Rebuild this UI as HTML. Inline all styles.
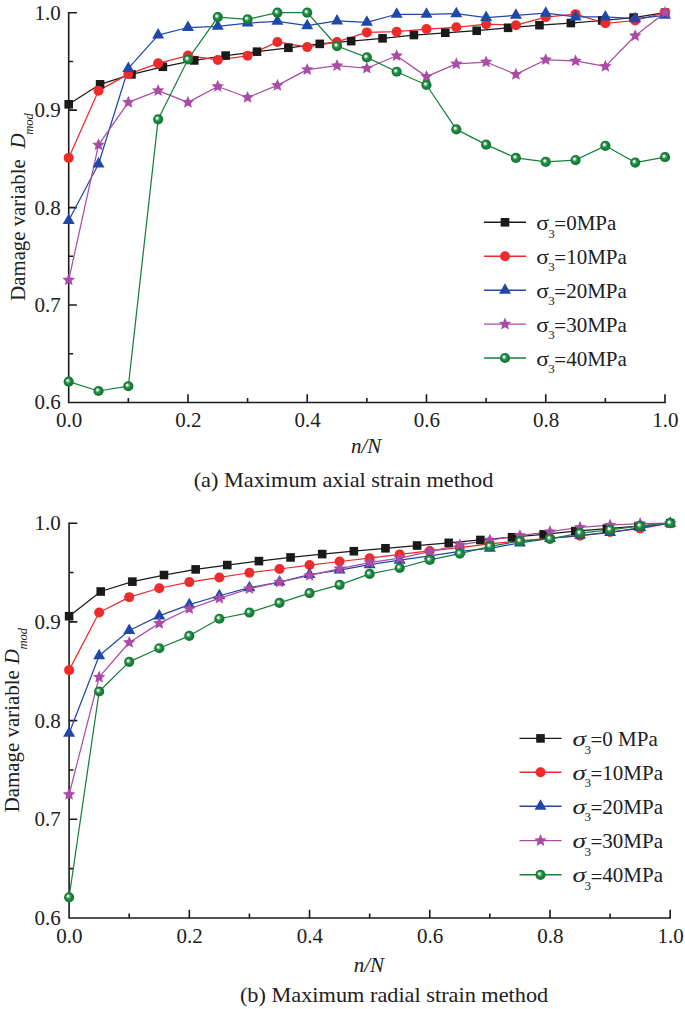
<!DOCTYPE html><html><head><meta charset="utf-8"><style>html,body{margin:0;padding:0;background:#fff;overflow:hidden;}svg{display:block;}text{font-family:"Liberation Serif", serif;}</style></head><body>
<svg width="685" height="1009" viewBox="0 0 685 1009">
<defs><radialGradient id="sph" cx="0.5" cy="0.5" r="0.5" fx="0.36" fy="0.36"><stop offset="0" stop-color="#ffffff"/><stop offset="0.14" stop-color="#eef7f0"/><stop offset="0.42" stop-color="#3a9c5a"/><stop offset="0.6" stop-color="#1a853c"/><stop offset="1" stop-color="#127532"/></radialGradient></defs>
<rect width="685" height="1009" fill="#fff"/>
<path d="M68.7 11.9V402.5H665.8" fill="none" stroke="#1a1a1a" stroke-width="1.6"/>
<path d="M128.33 402.5V398.1M187.96 402.5V394.3M247.59 402.5V398.1M307.22 402.5V394.3M366.85 402.5V398.1M426.48 402.5V394.3M486.11 402.5V398.1M545.74 402.5V394.3M605.37 402.5V398.1M665 402.5V394.3M68.7 353.77H73.1M68.7 305.05H76.9M68.7 256.32H73.1M68.7 207.6H76.9M68.7 158.88H73.1M68.7 110.15H76.9M68.7 61.43H73.1M68.7 12.7H76.9" fill="none" stroke="#1a1a1a" stroke-width="1.6"/>
<g font-size="21" fill="#202020" text-anchor="middle">
<text x="69" y="426.8">0.0</text>
<text x="188.26" y="426.8">0.2</text>
<text x="307.52" y="426.8">0.4</text>
<text x="426.78" y="426.8">0.6</text>
<text x="546.04" y="426.8">0.8</text>
<text x="665.3" y="426.8">1.0</text>
</g><g font-size="21" fill="#202020" text-anchor="end">
<text x="60.8" y="409.4">0.6</text>
<text x="60.8" y="311.95">0.7</text>
<text x="60.8" y="214.5">0.8</text>
<text x="60.8" y="117.05">0.9</text>
<text x="60.8" y="19.6">1.0</text>
</g>
<polyline points="68.7,104.3 100.08,84.33 131.47,74.39 162.85,66.78 194.24,60.45 225.62,55.58 257.01,51.68 288.39,47.78 319.77,43.88 351.16,41.16 382.54,38.33 413.93,35.02 445.31,32.77 476.69,30.73 508.08,27.8 539.46,25.17 570.85,23.03 602.23,20.5 633.62,17.57 665,12.7" fill="none" stroke="#1a1a1a" stroke-width="1.25" stroke-linejoin="round"/>
<polyline points="68.7,157.9 98.52,90.66 128.33,74.09 158.15,63.37 187.96,55.58 217.77,59.96 247.59,55.77 277.41,41.94 307.22,47.1 337.03,41.94 366.85,32.38 396.66,31.7 426.48,29.07 456.29,27.32 486.11,24.1 515.92,25.17 545.74,17.09 575.56,14.16 605.37,23.32 635.19,20.5 665,12.7" fill="none" stroke="#ee2a2a" stroke-width="1.25" stroke-linejoin="round"/>
<polyline points="68.7,220.46 98.52,163.94 128.33,68.44 158.15,35.11 187.96,27.51 217.77,26.34 247.59,23.03 277.41,21.28 307.22,25.66 337.03,20.89 366.85,22.35 396.66,14.26 426.48,14.26 456.29,13.67 486.11,17.57 515.92,15.33 545.74,13.19 575.56,16.99 605.37,16.99 635.19,18.74 665,15.33" fill="none" stroke="#1f48aa" stroke-width="1.25" stroke-linejoin="round"/>
<polyline points="68.7,280.01 98.52,144.94 128.33,102.35 158.15,90.66 187.96,102.35 217.77,86.47 247.59,97.48 277.41,85.4 307.22,69.61 337.03,65.71 366.85,68.25 396.66,55.77 426.48,76.63 456.29,63.86 486.11,62.01 515.92,74.39 545.74,59.77 575.56,60.94 605.37,66.39 635.19,35.8 665,12.7" fill="none" stroke="#aa4ca6" stroke-width="1.25" stroke-linejoin="round"/>
<polyline points="68.7,381.65 98.52,391 128.33,386.23 158.15,119.31 187.96,59.48 217.77,17.09 247.59,19.33 277.41,12.7 307.22,12.7 337.03,46.03 366.85,57.43 396.66,71.75 426.48,85.01 456.29,129.35 486.11,144.65 515.92,157.9 545.74,161.9 575.56,160.04 605.37,145.82 635.19,162.58 665,157.22" fill="none" stroke="#16803a" stroke-width="1.25" stroke-linejoin="round"/>
<rect x="64.4" y="100" width="8.6" height="8.6" fill="#1a1a1a"/>
<rect x="95.78" y="80.03" width="8.6" height="8.6" fill="#1a1a1a"/>
<rect x="127.17" y="70.09" width="8.6" height="8.6" fill="#1a1a1a"/>
<rect x="158.55" y="62.48" width="8.6" height="8.6" fill="#1a1a1a"/>
<rect x="189.94" y="56.15" width="8.6" height="8.6" fill="#1a1a1a"/>
<rect x="221.32" y="51.28" width="8.6" height="8.6" fill="#1a1a1a"/>
<rect x="252.71" y="47.38" width="8.6" height="8.6" fill="#1a1a1a"/>
<rect x="284.09" y="43.48" width="8.6" height="8.6" fill="#1a1a1a"/>
<rect x="315.47" y="39.58" width="8.6" height="8.6" fill="#1a1a1a"/>
<rect x="346.86" y="36.86" width="8.6" height="8.6" fill="#1a1a1a"/>
<rect x="378.24" y="34.03" width="8.6" height="8.6" fill="#1a1a1a"/>
<rect x="409.63" y="30.72" width="8.6" height="8.6" fill="#1a1a1a"/>
<rect x="441.01" y="28.47" width="8.6" height="8.6" fill="#1a1a1a"/>
<rect x="472.39" y="26.43" width="8.6" height="8.6" fill="#1a1a1a"/>
<rect x="503.78" y="23.5" width="8.6" height="8.6" fill="#1a1a1a"/>
<rect x="535.16" y="20.87" width="8.6" height="8.6" fill="#1a1a1a"/>
<rect x="566.55" y="18.73" width="8.6" height="8.6" fill="#1a1a1a"/>
<rect x="597.93" y="16.2" width="8.6" height="8.6" fill="#1a1a1a"/>
<rect x="629.32" y="13.27" width="8.6" height="8.6" fill="#1a1a1a"/>
<rect x="660.7" y="8.4" width="8.6" height="8.6" fill="#1a1a1a"/>
<circle cx="68.7" cy="157.9" r="5" fill="#ee2a2a"/>
<circle cx="98.52" cy="90.66" r="5" fill="#ee2a2a"/>
<circle cx="128.33" cy="74.09" r="5" fill="#ee2a2a"/>
<circle cx="158.15" cy="63.37" r="5" fill="#ee2a2a"/>
<circle cx="187.96" cy="55.58" r="5" fill="#ee2a2a"/>
<circle cx="217.77" cy="59.96" r="5" fill="#ee2a2a"/>
<circle cx="247.59" cy="55.77" r="5" fill="#ee2a2a"/>
<circle cx="277.41" cy="41.94" r="5" fill="#ee2a2a"/>
<circle cx="307.22" cy="47.1" r="5" fill="#ee2a2a"/>
<circle cx="337.03" cy="41.94" r="5" fill="#ee2a2a"/>
<circle cx="366.85" cy="32.38" r="5" fill="#ee2a2a"/>
<circle cx="396.66" cy="31.7" r="5" fill="#ee2a2a"/>
<circle cx="426.48" cy="29.07" r="5" fill="#ee2a2a"/>
<circle cx="456.29" cy="27.32" r="5" fill="#ee2a2a"/>
<circle cx="486.11" cy="24.1" r="5" fill="#ee2a2a"/>
<circle cx="515.92" cy="25.17" r="5" fill="#ee2a2a"/>
<circle cx="545.74" cy="17.09" r="5" fill="#ee2a2a"/>
<circle cx="575.56" cy="14.16" r="5" fill="#ee2a2a"/>
<circle cx="605.37" cy="23.32" r="5" fill="#ee2a2a"/>
<circle cx="635.19" cy="20.5" r="5" fill="#ee2a2a"/>
<circle cx="665" cy="12.7" r="5" fill="#ee2a2a"/>
<path d="M68.7 213.46L74.7 223.96L62.7 223.96Z" fill="#1f48aa"/>
<path d="M98.52 156.94L104.52 167.44L92.52 167.44Z" fill="#1f48aa"/>
<path d="M128.33 61.44L134.33 71.94L122.33 71.94Z" fill="#1f48aa"/>
<path d="M158.15 28.11L164.15 38.61L152.15 38.61Z" fill="#1f48aa"/>
<path d="M187.96 20.51L193.96 31.01L181.96 31.01Z" fill="#1f48aa"/>
<path d="M217.77 19.34L223.77 29.84L211.77 29.84Z" fill="#1f48aa"/>
<path d="M247.59 16.03L253.59 26.53L241.59 26.53Z" fill="#1f48aa"/>
<path d="M277.41 14.28L283.41 24.78L271.41 24.78Z" fill="#1f48aa"/>
<path d="M307.22 18.66L313.22 29.16L301.22 29.16Z" fill="#1f48aa"/>
<path d="M337.03 13.89L343.03 24.39L331.03 24.39Z" fill="#1f48aa"/>
<path d="M366.85 15.35L372.85 25.85L360.85 25.85Z" fill="#1f48aa"/>
<path d="M396.66 7.26L402.66 17.76L390.66 17.76Z" fill="#1f48aa"/>
<path d="M426.48 7.26L432.48 17.76L420.48 17.76Z" fill="#1f48aa"/>
<path d="M456.29 6.67L462.29 17.17L450.29 17.17Z" fill="#1f48aa"/>
<path d="M486.11 10.57L492.11 21.07L480.11 21.07Z" fill="#1f48aa"/>
<path d="M515.92 8.33L521.92 18.83L509.92 18.83Z" fill="#1f48aa"/>
<path d="M545.74 6.19L551.74 16.69L539.74 16.69Z" fill="#1f48aa"/>
<path d="M575.56 9.99L581.56 20.49L569.56 20.49Z" fill="#1f48aa"/>
<path d="M605.37 9.99L611.37 20.49L599.37 20.49Z" fill="#1f48aa"/>
<path d="M635.19 11.74L641.19 22.24L629.19 22.24Z" fill="#1f48aa"/>
<path d="M665 8.33L671 18.83L659 18.83Z" fill="#1f48aa"/>
<path d="M68.7 273.41L70.48 277.55L74.98 277.97L71.59 280.94L72.58 285.34L68.7 283.04L64.82 285.34L65.81 280.94L62.42 277.97L66.92 277.55Z" fill="#aa4ca6"/>
<path d="M98.52 138.34L100.3 142.48L104.79 142.9L101.4 145.88L102.39 150.28L98.52 147.98L94.64 150.28L95.63 145.88L92.24 142.9L96.73 142.48Z" fill="#aa4ca6"/>
<path d="M128.33 95.75L130.11 99.9L134.61 100.31L131.22 103.29L132.21 107.69L128.33 105.39L124.45 107.69L125.44 103.29L122.05 100.31L126.55 99.9Z" fill="#aa4ca6"/>
<path d="M158.15 84.06L159.93 88.2L164.42 88.62L161.03 91.6L162.02 96L158.15 93.7L154.27 96L155.26 91.6L151.87 88.62L156.36 88.2Z" fill="#aa4ca6"/>
<path d="M187.96 95.75L189.74 99.9L194.24 100.31L190.85 103.29L191.84 107.69L187.96 105.39L184.08 107.69L185.07 103.29L181.68 100.31L186.18 99.9Z" fill="#aa4ca6"/>
<path d="M217.77 79.87L219.56 84.01L224.05 84.43L220.66 87.41L221.65 91.81L217.77 89.51L213.9 91.81L214.89 87.41L211.5 84.43L215.99 84.01Z" fill="#aa4ca6"/>
<path d="M247.59 90.88L249.37 95.03L253.87 95.44L250.48 98.42L251.47 102.82L247.59 100.52L243.71 102.82L244.7 98.42L241.31 95.44L245.81 95.03Z" fill="#aa4ca6"/>
<path d="M277.41 78.8L279.19 82.94L283.68 83.36L280.29 86.34L281.28 90.74L277.41 88.43L273.53 90.74L274.52 86.34L271.13 83.36L275.62 82.94Z" fill="#aa4ca6"/>
<path d="M307.22 63.01L309 67.15L313.5 67.57L310.11 70.55L311.1 74.95L307.22 72.65L303.34 74.95L304.33 70.55L300.94 67.57L305.44 67.15Z" fill="#aa4ca6"/>
<path d="M337.03 59.11L338.82 63.26L343.31 63.67L339.92 66.65L340.91 71.05L337.03 68.75L333.16 71.05L334.15 66.65L330.76 63.67L335.25 63.26Z" fill="#aa4ca6"/>
<path d="M366.85 61.65L368.63 65.79L373.13 66.21L369.74 69.18L370.73 73.59L366.85 71.28L362.97 73.59L363.96 69.18L360.57 66.21L365.07 65.79Z" fill="#aa4ca6"/>
<path d="M396.66 49.17L398.45 53.32L402.94 53.73L399.55 56.71L400.54 61.11L396.66 58.81L392.79 61.11L393.78 56.71L390.39 53.73L394.88 53.32Z" fill="#aa4ca6"/>
<path d="M426.48 70.03L428.26 74.17L432.76 74.59L429.37 77.57L430.36 81.97L426.48 79.66L422.6 81.97L423.59 77.57L420.2 74.59L424.7 74.17Z" fill="#aa4ca6"/>
<path d="M456.29 57.26L458.08 61.41L462.57 61.82L459.18 64.8L460.17 69.2L456.29 66.9L452.42 69.2L453.41 64.8L450.02 61.82L454.51 61.41Z" fill="#aa4ca6"/>
<path d="M486.11 55.41L487.89 59.55L492.39 59.97L489 62.95L489.99 67.35L486.11 65.05L482.23 67.35L483.22 62.95L479.83 59.97L484.33 59.55Z" fill="#aa4ca6"/>
<path d="M515.92 67.79L517.71 71.93L522.2 72.35L518.81 75.32L519.8 79.73L515.92 77.42L512.05 79.73L513.04 75.32L509.65 72.35L514.14 71.93Z" fill="#aa4ca6"/>
<path d="M545.74 53.17L547.52 57.31L552.02 57.73L548.63 60.71L549.62 65.11L545.74 62.8L541.86 65.11L542.85 60.71L539.46 57.73L543.96 57.31Z" fill="#aa4ca6"/>
<path d="M575.56 54.34L577.34 58.48L581.83 58.9L578.44 61.88L579.43 66.28L575.56 63.97L571.68 66.28L572.67 61.88L569.28 58.9L573.77 58.48Z" fill="#aa4ca6"/>
<path d="M605.37 59.79L607.15 63.94L611.65 64.36L608.26 67.33L609.25 71.73L605.37 69.43L601.49 71.73L602.48 67.33L599.09 64.36L603.59 63.94Z" fill="#aa4ca6"/>
<path d="M635.19 29.2L636.97 33.34L641.46 33.76L638.07 36.73L639.06 41.14L635.19 38.83L631.31 41.14L632.3 36.73L628.91 33.76L633.4 33.34Z" fill="#aa4ca6"/>
<path d="M665 6.1L666.78 10.24L671.28 10.66L667.89 13.64L668.88 18.04L665 15.74L661.12 18.04L662.11 13.64L658.72 10.66L663.22 10.24Z" fill="#aa4ca6"/>
<circle cx="68.7" cy="381.65" r="5.1" fill="url(#sph)"/>
<circle cx="98.52" cy="391" r="5.1" fill="url(#sph)"/>
<circle cx="128.33" cy="386.23" r="5.1" fill="url(#sph)"/>
<circle cx="158.15" cy="119.31" r="5.1" fill="url(#sph)"/>
<circle cx="187.96" cy="59.48" r="5.1" fill="url(#sph)"/>
<circle cx="217.77" cy="17.09" r="5.1" fill="url(#sph)"/>
<circle cx="247.59" cy="19.33" r="5.1" fill="url(#sph)"/>
<circle cx="277.41" cy="12.7" r="5.1" fill="url(#sph)"/>
<circle cx="307.22" cy="12.7" r="5.1" fill="url(#sph)"/>
<circle cx="337.03" cy="46.03" r="5.1" fill="url(#sph)"/>
<circle cx="366.85" cy="57.43" r="5.1" fill="url(#sph)"/>
<circle cx="396.66" cy="71.75" r="5.1" fill="url(#sph)"/>
<circle cx="426.48" cy="85.01" r="5.1" fill="url(#sph)"/>
<circle cx="456.29" cy="129.35" r="5.1" fill="url(#sph)"/>
<circle cx="486.11" cy="144.65" r="5.1" fill="url(#sph)"/>
<circle cx="515.92" cy="157.9" r="5.1" fill="url(#sph)"/>
<circle cx="545.74" cy="161.9" r="5.1" fill="url(#sph)"/>
<circle cx="575.56" cy="160.04" r="5.1" fill="url(#sph)"/>
<circle cx="605.37" cy="145.82" r="5.1" fill="url(#sph)"/>
<circle cx="635.19" cy="162.58" r="5.1" fill="url(#sph)"/>
<circle cx="665" cy="157.22" r="5.1" fill="url(#sph)"/>
<line x1="484" y1="222.3" x2="526" y2="222.3" stroke="#1a1a1a" stroke-width="1.4"/>
<rect x="500.7" y="218" width="8.6" height="8.6" fill="#1a1a1a"/>
<text transform="translate(536.3 229.8) scale(1.12 1)" font-size="21" fill="#202020">σ</text>
<text x="548.3" y="237.5" font-size="13" fill="#202020">3</text>
<text x="554.3" y="229.8" font-size="21" fill="#202020"><tspan dy="1.3">=</tspan><tspan dy="-1.3">0MPa</tspan></text>
<line x1="484" y1="256.2" x2="526" y2="256.2" stroke="#ee2a2a" stroke-width="1.4"/>
<circle cx="505" cy="256.2" r="5" fill="#ee2a2a"/>
<text transform="translate(536.3 263.7) scale(1.12 1)" font-size="21" fill="#202020">σ</text>
<text x="548.3" y="271.4" font-size="13" fill="#202020">3</text>
<text x="554.3" y="263.7" font-size="21" fill="#202020"><tspan dy="1.3">=</tspan><tspan dy="-1.3">10MPa</tspan></text>
<line x1="484" y1="290.2" x2="526" y2="290.2" stroke="#1f48aa" stroke-width="1.4"/>
<path d="M505 283.2L511 293.7L499 293.7Z" fill="#1f48aa"/>
<text transform="translate(536.3 297.7) scale(1.12 1)" font-size="21" fill="#202020">σ</text>
<text x="548.3" y="305.4" font-size="13" fill="#202020">3</text>
<text x="554.3" y="297.7" font-size="21" fill="#202020"><tspan dy="1.3">=</tspan><tspan dy="-1.3">20MPa</tspan></text>
<line x1="484" y1="324.1" x2="526" y2="324.1" stroke="#aa4ca6" stroke-width="1.4"/>
<path d="M505 317.5L506.78 321.64L511.28 322.06L507.89 325.04L508.88 329.44L505 327.14L501.12 329.44L502.11 325.04L498.72 322.06L503.22 321.64Z" fill="#aa4ca6"/>
<text transform="translate(536.3 331.6) scale(1.12 1)" font-size="21" fill="#202020">σ</text>
<text x="548.3" y="339.3" font-size="13" fill="#202020">3</text>
<text x="554.3" y="331.6" font-size="21" fill="#202020"><tspan dy="1.3">=</tspan><tspan dy="-1.3">30MPa</tspan></text>
<line x1="484" y1="358" x2="526" y2="358" stroke="#16803a" stroke-width="1.4"/>
<circle cx="505" cy="358" r="5.1" fill="url(#sph)"/>
<text transform="translate(536.3 365.5) scale(1.12 1)" font-size="21" fill="#202020">σ</text>
<text x="548.3" y="373.2" font-size="13" fill="#202020">3</text>
<text x="554.3" y="365.5" font-size="21" fill="#202020"><tspan dy="1.3">=</tspan><tspan dy="-1.3">40MPa</tspan></text>
<text x="366.2" y="452.7" font-size="21" font-style="italic" fill="#202020" text-anchor="middle">n/N</text>
<text transform="translate(343.5 487) scale(1.03 1)" font-size="21.65" fill="#202020" text-anchor="middle">(a) Maximum axial strain method</text>
<text transform="translate(24.9 300.8) rotate(-90)" font-size="20.8" fill="#202020">Damage variable</text>
<text transform="translate(24.9 148.56) rotate(-90)" font-size="21" font-style="italic" fill="#202020">D</text>
<text transform="translate(32.5 134.85) rotate(-90)" font-size="12.6" font-style="italic" fill="#202020">mod</text>
<path d="M69.1 522.4V918H671" fill="none" stroke="#1a1a1a" stroke-width="1.6"/>
<path d="M129.21 918V913.6M189.32 918V909.8M249.43 918V913.6M309.54 918V909.8M369.65 918V913.6M429.76 918V909.8M489.87 918V913.6M549.98 918V909.8M610.09 918V913.6M670.2 918V909.8M69.1 868.65H73.5M69.1 819.3H77.3M69.1 769.95H73.5M69.1 720.6H77.3M69.1 671.25H73.5M69.1 621.9H77.3M69.1 572.55H73.5M69.1 523.2H77.3" fill="none" stroke="#1a1a1a" stroke-width="1.6"/>
<g font-size="21" fill="#202020" text-anchor="middle">
<text x="69.4" y="943.2">0.0</text>
<text x="189.62" y="943.2">0.2</text>
<text x="309.84" y="943.2">0.4</text>
<text x="430.06" y="943.2">0.6</text>
<text x="550.28" y="943.2">0.8</text>
<text x="670.5" y="943.2">1.0</text>
</g><g font-size="21" fill="#202020" text-anchor="end">
<text x="60.8" y="924.9">0.6</text>
<text x="60.8" y="826.2">0.7</text>
<text x="60.8" y="727.5">0.8</text>
<text x="60.8" y="628.8">0.9</text>
<text x="60.8" y="530.1">1.0</text>
</g>
<polyline points="69.1,616.18 100.74,591.5 132.37,581.63 164.01,575.02 195.65,569.39 227.28,565.05 258.92,561.1 290.56,557.45 322.19,554.09 353.83,551.23 385.47,548.27 417.11,545.51 448.74,542.84 480.38,539.98 512.02,537.22 543.65,534.35 575.29,531.1 606.93,528.63 638.56,526.16 670.2,523.2" fill="none" stroke="#1a1a1a" stroke-width="1.25" stroke-linejoin="round"/>
<polyline points="69.1,670.16 99.16,612.52 129.21,597.13 159.27,588.24 189.32,582.12 219.38,577.49 249.43,572.75 279.49,569 309.54,565.05 339.6,561.5 369.65,558.24 399.71,554.39 429.76,550.93 459.82,547.68 489.87,543.93 519.93,540.77 549.98,538.2 580.04,535.83 610.09,531.89 640.15,528.53 670.2,523.2" fill="none" stroke="#ee2a2a" stroke-width="1.25" stroke-linejoin="round"/>
<polyline points="69.1,733.23 99.16,655.66 129.21,630.49 159.27,615.88 189.32,604.63 219.38,595.74 249.43,587.65 279.49,582.03 309.54,574.62 339.6,570.08 369.65,564.65 399.71,560.21 429.76,555.77 459.82,551.33 489.87,548.37 519.93,542.94 549.98,538.5 580.04,535.34 610.09,532.58 640.15,527.54 670.2,523.2" fill="none" stroke="#1f48aa" stroke-width="1.25" stroke-linejoin="round"/>
<polyline points="69.1,794.53 99.16,677.17 129.21,642.53 159.27,623.38 189.32,608.77 219.38,598.31 249.43,588.74 279.49,582.12 309.54,575.51 339.6,568.7 369.65,562.58 399.71,558.14 429.76,551.63 459.82,544.91 489.87,540.08 519.93,535.54 549.98,531.69 580.04,527.44 610.09,525.17 640.15,523.69 670.2,523.2" fill="none" stroke="#aa4ca6" stroke-width="1.25" stroke-linejoin="round"/>
<polyline points="69.1,897.27 99.16,691.48 129.21,661.87 159.27,648.25 189.32,635.82 219.38,618.74 249.43,612.52 279.49,602.95 309.54,593.08 339.6,584.89 369.65,573.93 399.71,568.01 429.76,559.92 459.82,553.6 489.87,546.39 519.93,541.16 549.98,538.79 580.04,533.17 610.09,529.81 640.15,525.96 670.2,523.2" fill="none" stroke="#16803a" stroke-width="1.25" stroke-linejoin="round"/>
<rect x="64.8" y="611.88" width="8.6" height="8.6" fill="#1a1a1a"/>
<rect x="96.44" y="587.2" width="8.6" height="8.6" fill="#1a1a1a"/>
<rect x="128.07" y="577.33" width="8.6" height="8.6" fill="#1a1a1a"/>
<rect x="159.71" y="570.72" width="8.6" height="8.6" fill="#1a1a1a"/>
<rect x="191.35" y="565.09" width="8.6" height="8.6" fill="#1a1a1a"/>
<rect x="222.98" y="560.75" width="8.6" height="8.6" fill="#1a1a1a"/>
<rect x="254.62" y="556.8" width="8.6" height="8.6" fill="#1a1a1a"/>
<rect x="286.26" y="553.15" width="8.6" height="8.6" fill="#1a1a1a"/>
<rect x="317.89" y="549.79" width="8.6" height="8.6" fill="#1a1a1a"/>
<rect x="349.53" y="546.93" width="8.6" height="8.6" fill="#1a1a1a"/>
<rect x="381.17" y="543.97" width="8.6" height="8.6" fill="#1a1a1a"/>
<rect x="412.81" y="541.21" width="8.6" height="8.6" fill="#1a1a1a"/>
<rect x="444.44" y="538.54" width="8.6" height="8.6" fill="#1a1a1a"/>
<rect x="476.08" y="535.68" width="8.6" height="8.6" fill="#1a1a1a"/>
<rect x="507.72" y="532.92" width="8.6" height="8.6" fill="#1a1a1a"/>
<rect x="539.35" y="530.05" width="8.6" height="8.6" fill="#1a1a1a"/>
<rect x="570.99" y="526.8" width="8.6" height="8.6" fill="#1a1a1a"/>
<rect x="602.63" y="524.33" width="8.6" height="8.6" fill="#1a1a1a"/>
<rect x="634.26" y="521.86" width="8.6" height="8.6" fill="#1a1a1a"/>
<rect x="665.9" y="518.9" width="8.6" height="8.6" fill="#1a1a1a"/>
<circle cx="69.1" cy="670.16" r="5" fill="#ee2a2a"/>
<circle cx="99.16" cy="612.52" r="5" fill="#ee2a2a"/>
<circle cx="129.21" cy="597.13" r="5" fill="#ee2a2a"/>
<circle cx="159.27" cy="588.24" r="5" fill="#ee2a2a"/>
<circle cx="189.32" cy="582.12" r="5" fill="#ee2a2a"/>
<circle cx="219.38" cy="577.49" r="5" fill="#ee2a2a"/>
<circle cx="249.43" cy="572.75" r="5" fill="#ee2a2a"/>
<circle cx="279.49" cy="569" r="5" fill="#ee2a2a"/>
<circle cx="309.54" cy="565.05" r="5" fill="#ee2a2a"/>
<circle cx="339.6" cy="561.5" r="5" fill="#ee2a2a"/>
<circle cx="369.65" cy="558.24" r="5" fill="#ee2a2a"/>
<circle cx="399.71" cy="554.39" r="5" fill="#ee2a2a"/>
<circle cx="429.76" cy="550.93" r="5" fill="#ee2a2a"/>
<circle cx="459.82" cy="547.68" r="5" fill="#ee2a2a"/>
<circle cx="489.87" cy="543.93" r="5" fill="#ee2a2a"/>
<circle cx="519.93" cy="540.77" r="5" fill="#ee2a2a"/>
<circle cx="549.98" cy="538.2" r="5" fill="#ee2a2a"/>
<circle cx="580.04" cy="535.83" r="5" fill="#ee2a2a"/>
<circle cx="610.09" cy="531.89" r="5" fill="#ee2a2a"/>
<circle cx="640.15" cy="528.53" r="5" fill="#ee2a2a"/>
<circle cx="670.2" cy="523.2" r="5" fill="#ee2a2a"/>
<path d="M69.1 726.23L75.1 736.73L63.1 736.73Z" fill="#1f48aa"/>
<path d="M99.16 648.66L105.16 659.16L93.16 659.16Z" fill="#1f48aa"/>
<path d="M129.21 623.49L135.21 633.99L123.21 633.99Z" fill="#1f48aa"/>
<path d="M159.27 608.88L165.27 619.38L153.27 619.38Z" fill="#1f48aa"/>
<path d="M189.32 597.63L195.32 608.13L183.32 608.13Z" fill="#1f48aa"/>
<path d="M219.38 588.74L225.38 599.24L213.38 599.24Z" fill="#1f48aa"/>
<path d="M249.43 580.65L255.43 591.15L243.43 591.15Z" fill="#1f48aa"/>
<path d="M279.49 575.03L285.49 585.53L273.49 585.53Z" fill="#1f48aa"/>
<path d="M309.54 567.62L315.54 578.12L303.54 578.12Z" fill="#1f48aa"/>
<path d="M339.6 563.08L345.6 573.58L333.6 573.58Z" fill="#1f48aa"/>
<path d="M369.65 557.65L375.65 568.15L363.65 568.15Z" fill="#1f48aa"/>
<path d="M399.71 553.21L405.71 563.71L393.71 563.71Z" fill="#1f48aa"/>
<path d="M429.76 548.77L435.76 559.27L423.76 559.27Z" fill="#1f48aa"/>
<path d="M459.82 544.33L465.82 554.83L453.82 554.83Z" fill="#1f48aa"/>
<path d="M489.87 541.37L495.87 551.87L483.87 551.87Z" fill="#1f48aa"/>
<path d="M519.93 535.94L525.93 546.44L513.93 546.44Z" fill="#1f48aa"/>
<path d="M549.98 531.5L555.98 542L543.98 542Z" fill="#1f48aa"/>
<path d="M580.04 528.34L586.04 538.84L574.04 538.84Z" fill="#1f48aa"/>
<path d="M610.09 525.58L616.09 536.08L604.09 536.08Z" fill="#1f48aa"/>
<path d="M640.15 520.54L646.15 531.04L634.15 531.04Z" fill="#1f48aa"/>
<path d="M670.2 516.2L676.2 526.7L664.2 526.7Z" fill="#1f48aa"/>
<path d="M69.1 787.93L70.88 792.07L75.38 792.49L71.99 795.46L72.98 799.87L69.1 797.56L65.22 799.87L66.21 795.46L62.82 792.49L67.32 792.07Z" fill="#aa4ca6"/>
<path d="M99.16 670.57L100.94 674.72L105.43 675.13L102.04 678.11L103.03 682.51L99.16 680.21L95.28 682.51L96.27 678.11L92.88 675.13L97.37 674.72Z" fill="#aa4ca6"/>
<path d="M129.21 635.93L130.99 640.07L135.49 640.49L132.1 643.47L133.09 647.87L129.21 645.56L125.33 647.87L126.32 643.47L122.93 640.49L127.43 640.07Z" fill="#aa4ca6"/>
<path d="M159.27 616.78L161.05 620.92L165.54 621.34L162.15 624.32L163.14 628.72L159.27 626.42L155.39 628.72L156.38 624.32L152.99 621.34L157.48 620.92Z" fill="#aa4ca6"/>
<path d="M189.32 602.17L191.1 606.32L195.6 606.73L192.21 609.71L193.2 614.11L189.32 611.81L185.44 614.11L186.43 609.71L183.04 606.73L187.54 606.32Z" fill="#aa4ca6"/>
<path d="M219.38 591.71L221.16 595.85L225.65 596.27L222.26 599.25L223.25 603.65L219.38 601.35L215.5 603.65L216.49 599.25L213.1 596.27L217.59 595.85Z" fill="#aa4ca6"/>
<path d="M249.43 582.14L251.21 586.28L255.71 586.7L252.32 589.67L253.31 594.08L249.43 591.77L245.55 594.08L246.54 589.67L243.15 586.7L247.65 586.28Z" fill="#aa4ca6"/>
<path d="M279.49 575.52L281.27 579.67L285.76 580.08L282.37 583.06L283.36 587.46L279.49 585.16L275.61 587.46L276.6 583.06L273.21 580.08L277.7 579.67Z" fill="#aa4ca6"/>
<path d="M309.54 568.91L311.32 573.05L315.82 573.47L312.43 576.45L313.42 580.85L309.54 578.55L305.66 580.85L306.65 576.45L303.26 573.47L307.76 573.05Z" fill="#aa4ca6"/>
<path d="M339.6 562.1L341.38 566.24L345.87 566.66L342.48 569.64L343.47 574.04L339.6 571.74L335.72 574.04L336.71 569.64L333.32 566.66L337.81 566.24Z" fill="#aa4ca6"/>
<path d="M369.65 555.98L371.43 560.13L375.93 560.54L372.54 563.52L373.53 567.92L369.65 565.62L365.77 567.92L366.76 563.52L363.37 560.54L367.87 560.13Z" fill="#aa4ca6"/>
<path d="M399.71 551.54L401.49 555.68L405.98 556.1L402.59 559.08L403.58 563.48L399.71 561.18L395.83 563.48L396.82 559.08L393.43 556.1L397.92 555.68Z" fill="#aa4ca6"/>
<path d="M429.76 545.03L431.54 549.17L436.04 549.59L432.65 552.56L433.64 556.97L429.76 554.66L425.88 556.97L426.87 552.56L423.48 549.59L427.98 549.17Z" fill="#aa4ca6"/>
<path d="M459.82 538.31L461.6 542.46L466.09 542.87L462.7 545.85L463.69 550.25L459.82 547.95L455.94 550.25L456.93 545.85L453.54 542.87L458.03 542.46Z" fill="#aa4ca6"/>
<path d="M489.87 533.48L491.65 537.62L496.15 538.04L492.76 541.02L493.75 545.42L489.87 543.11L485.99 545.42L486.98 541.02L483.59 538.04L488.09 537.62Z" fill="#aa4ca6"/>
<path d="M519.93 528.94L521.71 533.08L526.2 533.5L522.81 536.48L523.8 540.88L519.93 538.57L516.05 540.88L517.04 536.48L513.65 533.5L518.14 533.08Z" fill="#aa4ca6"/>
<path d="M549.98 525.09L551.76 529.23L556.26 529.65L552.87 532.63L553.86 537.03L549.98 534.72L546.1 537.03L547.09 532.63L543.7 529.65L548.2 529.23Z" fill="#aa4ca6"/>
<path d="M580.04 520.84L581.82 524.99L586.31 525.4L582.92 528.38L583.91 532.78L580.04 530.48L576.16 532.78L577.15 528.38L573.76 525.4L578.25 524.99Z" fill="#aa4ca6"/>
<path d="M610.09 518.57L611.87 522.72L616.37 523.13L612.98 526.11L613.97 530.51L610.09 528.21L606.21 530.51L607.2 526.11L603.81 523.13L608.31 522.72Z" fill="#aa4ca6"/>
<path d="M640.15 517.09L641.93 521.24L646.42 521.65L643.03 524.63L644.02 529.03L640.15 526.73L636.27 529.03L637.26 524.63L633.87 521.65L638.36 521.24Z" fill="#aa4ca6"/>
<path d="M670.2 516.6L671.98 520.74L676.48 521.16L673.09 524.14L674.08 528.54L670.2 526.24L666.32 528.54L667.31 524.14L663.92 521.16L668.42 520.74Z" fill="#aa4ca6"/>
<circle cx="69.1" cy="897.27" r="5.1" fill="url(#sph)"/>
<circle cx="99.16" cy="691.48" r="5.1" fill="url(#sph)"/>
<circle cx="129.21" cy="661.87" r="5.1" fill="url(#sph)"/>
<circle cx="159.27" cy="648.25" r="5.1" fill="url(#sph)"/>
<circle cx="189.32" cy="635.82" r="5.1" fill="url(#sph)"/>
<circle cx="219.38" cy="618.74" r="5.1" fill="url(#sph)"/>
<circle cx="249.43" cy="612.52" r="5.1" fill="url(#sph)"/>
<circle cx="279.49" cy="602.95" r="5.1" fill="url(#sph)"/>
<circle cx="309.54" cy="593.08" r="5.1" fill="url(#sph)"/>
<circle cx="339.6" cy="584.89" r="5.1" fill="url(#sph)"/>
<circle cx="369.65" cy="573.93" r="5.1" fill="url(#sph)"/>
<circle cx="399.71" cy="568.01" r="5.1" fill="url(#sph)"/>
<circle cx="429.76" cy="559.92" r="5.1" fill="url(#sph)"/>
<circle cx="459.82" cy="553.6" r="5.1" fill="url(#sph)"/>
<circle cx="489.87" cy="546.39" r="5.1" fill="url(#sph)"/>
<circle cx="519.93" cy="541.16" r="5.1" fill="url(#sph)"/>
<circle cx="549.98" cy="538.79" r="5.1" fill="url(#sph)"/>
<circle cx="580.04" cy="533.17" r="5.1" fill="url(#sph)"/>
<circle cx="610.09" cy="529.81" r="5.1" fill="url(#sph)"/>
<circle cx="640.15" cy="525.96" r="5.1" fill="url(#sph)"/>
<circle cx="670.2" cy="523.2" r="5.1" fill="url(#sph)"/>
<line x1="519.5" y1="738.4" x2="561.5" y2="738.4" stroke="#1a1a1a" stroke-width="1.4"/>
<rect x="536.2" y="734.1" width="8.6" height="8.6" fill="#1a1a1a"/>
<text transform="translate(572.5 745.9) scale(1.3 1)" font-size="21" fill="#202020" font-style="italic">σ</text>
<text x="584.5" y="753.6" font-size="13" fill="#202020">3</text>
<text x="590.5" y="745.9" font-size="21" fill="#202020"><tspan dy="1.3">=</tspan><tspan dy="-1.3">0 MPa</tspan></text>
<line x1="519.5" y1="772.2" x2="561.5" y2="772.2" stroke="#ee2a2a" stroke-width="1.4"/>
<circle cx="540.5" cy="772.2" r="5" fill="#ee2a2a"/>
<text transform="translate(572.5 779.7) scale(1.3 1)" font-size="21" fill="#202020" font-style="italic">σ</text>
<text x="584.5" y="787.4" font-size="13" fill="#202020">3</text>
<text x="590.5" y="779.7" font-size="21" fill="#202020"><tspan dy="1.3">=</tspan><tspan dy="-1.3">10MPa</tspan></text>
<line x1="519.5" y1="806.2" x2="561.5" y2="806.2" stroke="#1f48aa" stroke-width="1.4"/>
<path d="M540.5 799.2L546.5 809.7L534.5 809.7Z" fill="#1f48aa"/>
<text transform="translate(572.5 813.7) scale(1.3 1)" font-size="21" fill="#202020" font-style="italic">σ</text>
<text x="584.5" y="821.4" font-size="13" fill="#202020">3</text>
<text x="590.5" y="813.7" font-size="21" fill="#202020"><tspan dy="1.3">=</tspan><tspan dy="-1.3">20MPa</tspan></text>
<line x1="519.5" y1="840.6" x2="561.5" y2="840.6" stroke="#aa4ca6" stroke-width="1.4"/>
<path d="M540.5 834L542.28 838.14L546.78 838.56L543.39 841.54L544.38 845.94L540.5 843.64L536.62 845.94L537.61 841.54L534.22 838.56L538.72 838.14Z" fill="#aa4ca6"/>
<text transform="translate(572.5 848.1) scale(1.3 1)" font-size="21" fill="#202020" font-style="italic">σ</text>
<text x="584.5" y="855.8" font-size="13" fill="#202020">3</text>
<text x="590.5" y="848.1" font-size="21" fill="#202020"><tspan dy="1.3">=</tspan><tspan dy="-1.3">30MPa</tspan></text>
<line x1="519.5" y1="874.8" x2="561.5" y2="874.8" stroke="#16803a" stroke-width="1.4"/>
<circle cx="540.5" cy="874.8" r="5.1" fill="url(#sph)"/>
<text transform="translate(572.5 882.3) scale(1.3 1)" font-size="21" fill="#202020" font-style="italic">σ</text>
<text x="584.5" y="890" font-size="13" fill="#202020">3</text>
<text x="590.5" y="882.3" font-size="21" fill="#202020"><tspan dy="1.3">=</tspan><tspan dy="-1.3">40MPa</tspan></text>
<text x="368.8" y="971.8" font-size="21" font-style="italic" fill="#202020" text-anchor="middle">n/N</text>
<text transform="translate(394.1 1001.8) scale(1.03 1)" font-size="21.65" fill="#202020" text-anchor="middle">(b) Maximum radial strain method</text>
<text transform="translate(19.3 812.3) rotate(-90)" font-size="20.9" fill="#202020">Damage variable</text>
<text transform="translate(19.3 664.36) rotate(-90)" font-size="21" font-style="italic" fill="#202020">D</text>
<text transform="translate(26.6 649.6) rotate(-90)" font-size="12.6" font-style="italic" fill="#202020">mod</text>
</svg></body></html>
